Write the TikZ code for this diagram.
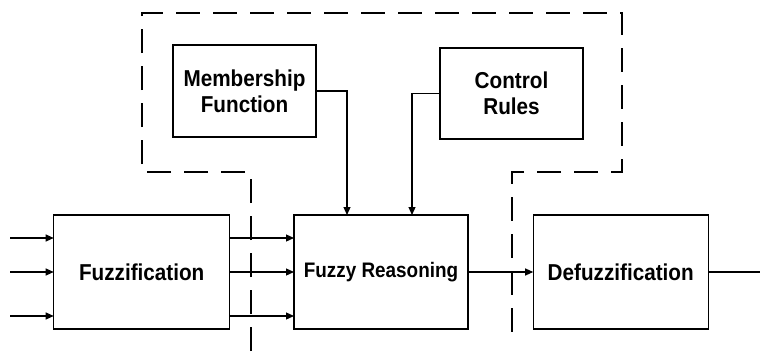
\documentclass[tikz,border=0pt]{standalone}
\usepackage{fontspec}
\setmainfont{Liberation Sans}[FakeStretch=0.9]
\usetikzlibrary{arrows.meta}
\begin{document}
\begin{tikzpicture}[x=1pt,y=-1pt,
  block/.style={draw, line width=1.2pt, inner sep=0pt, outer sep=0pt,
    align=center, font=\bfseries\fontsize{23}{26}\selectfont},
  arr/.style={line width=1.2pt, -{Triangle[length=8pt,width=7pt]}},
  plain/.style={line width=1.2pt},
  zone/.style={line width=1.2pt, dash pattern=on 24pt off 13pt}]
\useasboundingbox (0,0) rectangle (760,351);

% main processing chain
\node[block, minimum width=176pt, minimum height=114pt] (fz) at (141.7,272) {Fuzzification};
\node[block, minimum width=174pt, minimum height=114pt,
      font=\bfseries\fontsize{21}{24}\selectfont] (fr) at (381,272) {Fuzzy Reasoning};
\node[block, minimum width=175pt, minimum height=114pt] (df) at (620.7,272) {Defuzzification};

% knowledge base
\node[block, minimum width=143pt, minimum height=92pt] (mf) at (244.5,91) {Membership\\Function};
\node[block, minimum width=143pt, minimum height=91pt] (cr) at (511.5,93.5) {Control\\Rules};

% dashed outline of the knowledge base
\draw[zone] (251,351) -- (251,172) -- (142,172) -- (142,13) -- (622,13)
  -- (622,172) -- (512,172) -- (512,340);

% inputs
\coordinate (in1) at (10,238);
\coordinate (in2) at (10,272);
\coordinate (in3) at (10,316);
\draw[arr] (in1) -- (in1 -| fz.west);
\draw[arr] (in2) -- (in2 -| fz.west);
\draw[arr] (in3) -- (in3 -| fz.west);

% fuzzified signals
\draw[arr] (fz.east |- in1) -- (fr.west |- in1);
\draw[arr] (fz.east |- in2) -- (fr.west |- in2);
\draw[arr] (fz.east |- in3) -- (fr.west |- in3);

% knowledge base feeds
\draw[arr] (mf.east) -| ([xshift=-34pt]fr.north);
\draw[arr] (cr.west) -| ([xshift=31pt]fr.north);

% reasoning to defuzzification and output
\draw[arr] (fr.east) -- (df.west);
\coordinate (out) at (760,272);
\draw[plain] (df.east) -- (out);
\end{tikzpicture}
\end{document}
